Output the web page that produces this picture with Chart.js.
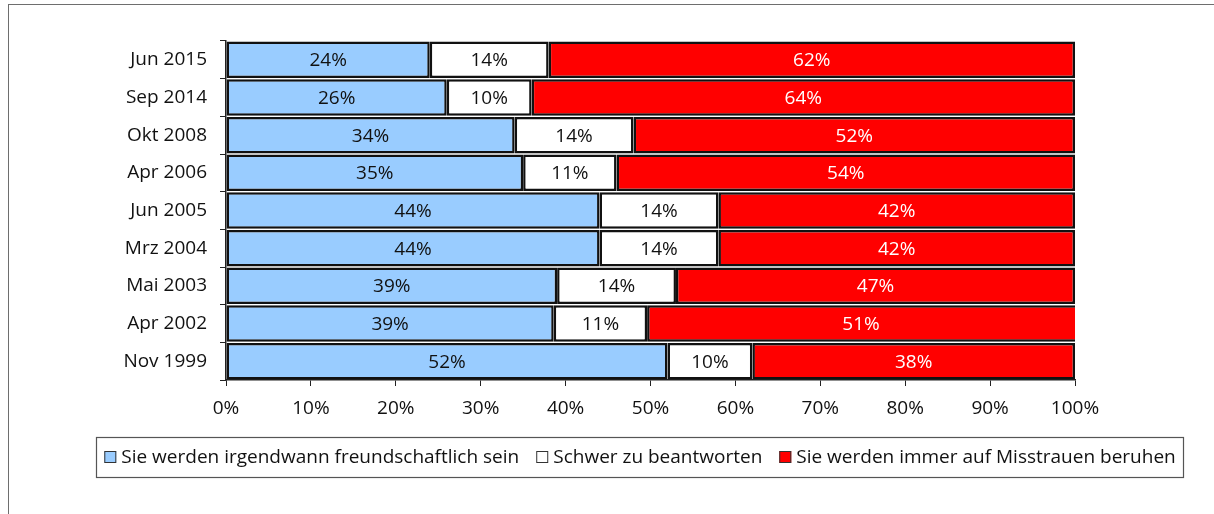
<!DOCTYPE html>
<html>
<head>
<meta charset="utf-8">
<script src="https://cdn.jsdelivr.net/npm/chart.js@4.4.0/dist/chart.umd.min.js"></script>
<style>
 body { margin:0; background:#fff; }
 #wrap { position:relative; width:1214px; height:514px; overflow:hidden; }
 #frame { position:absolute; left:8px; top:4px; width:1300px; height:600px; border:1.5px solid #6e6e6e; }
 #c { position:absolute; left:0; top:0; }
</style>
</head>
<body>
<div id="wrap">
 <div id="frame"></div>
 <canvas id="c" width="1214" height="514"></canvas>
</div>
<script>
// survey dates (top to bottom)
var dates = ["Jun 2015", "Sep 2014", "Okt 2008", "Apr 2006", "Jun 2005", "Mrz 2004", "Mai 2003", "Apr 2002", "Nov 1999"];

// shares in percent
var friendly  = [24, 26, 34, 35, 44, 44, 39, 38.6, 52];
var hardToSay = [14, 10, 14, 11, 14, 14, 14, 11, 10];
var mistrust  = [62, 64, 52, 54, 42, 42, 47, 51, 38];

var seriesNames = ["Sie werden irgendwann freundschaftlich sein", "Schwer zu beantworten", "Sie werden immer auf Misstrauen beruhen"];
var xTicks = [0, 10, 20, 30, 40, 50, 60, 70, 80, 90, 100];

var FONT = "'Open Sans', sans-serif";

// percent text inside every bar segment
var barLabels = {
  id: "barLabels",
  afterDatasetsDraw: function(chart) {
    var ctx = chart.ctx;
    ctx.save();
    ctx.font = "19px " + FONT;
    ctx.textAlign = "center";
    ctx.textBaseline = "middle";
    chart.data.datasets.forEach(function(ds, di) {
      var meta = chart.getDatasetMeta(di);
      meta.data.forEach(function(bar, i) {
        var v = ds.data[i];
        var x = (Math.min(bar.x, chart.chartArea.right) + bar.base) / 2;
        ctx.fillStyle = di == 2 ? "#fff" : "#111";
        ctx.fillText(Math.round(v) + "%", x, bar.y + 1);
      });
    });
    ctx.restore();
  }
};

// framed legend under the axis, centred like the original
var boxLegend = {
  id: "boxLegend",
  afterDraw: function(chart) {
    var ctx = chart.ctx;
    var cx = 640, cy = 457, box = 12, gapText = 5, gapItem = 17;
    ctx.save();
    ctx.font = "19px " + FONT;
    ctx.textBaseline = "middle";
    var ds = chart.data.datasets;
    var widths = ds.map(function(d){ return box + gapText + ctx.measureText(d.label).width; });
    var total = widths.reduce(function(a, b){ return a + b; }, 0) + gapItem * (ds.length - 1);
    var x = cx - total / 2;
    ctx.strokeStyle = "#555";
    ctx.lineWidth = 1.2;
    ctx.strokeRect(Math.round(x - 8) + 0.5, cy - 20 + 0.5, Math.round(total + 16), 40);
    ds.forEach(function(d, i) {
      ctx.fillStyle = d.backgroundColor;
      ctx.fillRect(x, cy - box / 2, box, box);
      ctx.strokeStyle = "#333";
      ctx.lineWidth = 1;
      ctx.strokeRect(x + 0.5, cy - box / 2 + 0.5, box - 1, box - 1);
      ctx.fillStyle = "#111";
      ctx.fillText(d.label, x + box + gapText, cy + 1);
      x += widths[i] + gapItem;
    });
    ctx.restore();
  }
};

new Chart(document.getElementById("c"), {
  type: "bar",
  data: {
    labels: dates,
    datasets: [
      { label: seriesNames[0], data: friendly,  backgroundColor: "#99ccff", borderColor: "#111", borderWidth: 2.5 },
      { label: seriesNames[1], data: hardToSay, backgroundColor: "#ffffff", borderColor: "#111", borderWidth: 2.5 },
      { label: seriesNames[2], data: mistrust,  backgroundColor: "#ff0000", borderColor: "#111", borderWidth: 2.5 }
    ]
  },
  options: {
    indexAxis: "y",
    responsive: false,
    animation: false,
    events: [],
    layout: { padding: { left: 0, right: 139, top: 41, bottom: 85 } },
    datasets: { bar: { categoryPercentage: 1, barPercentage: 0.97, borderSkipped: false } },
    scales: {
      x: {
        stacked: true, min: 0, max: 100,
        afterBuildTicks: function(s) { s.ticks = xTicks.map(function(v){ return { value: v }; }); },
        afterFit: function(s) { s.height = 49; },
        grid: { drawOnChartArea: false, color: "#222", tickLength: 6, tickColor: "#222" },
        border: { color: "#222", width: 1.5 },
        ticks: { color: "#111", font: { family: FONT, size: 19 }, padding: 11, callback: function(v){ return v + "%"; } }
      },
      y: {
        stacked: true,
        afterFit: function(s) { s.width = 226; },
        grid: { drawOnChartArea: false, offset: true, color: "#222", tickLength: 6, tickColor: "#222" },
        border: { color: "#222", width: 1.5 },
        ticks: { color: "#111", font: { family: FONT, size: 19 }, padding: 13 }
      }
    },
    plugins: {
      tooltip: { enabled: false },
      legend: { display: false }
    }
  },
  plugins: [barLabels, boxLegend]
});
</script>
</body>
</html>
